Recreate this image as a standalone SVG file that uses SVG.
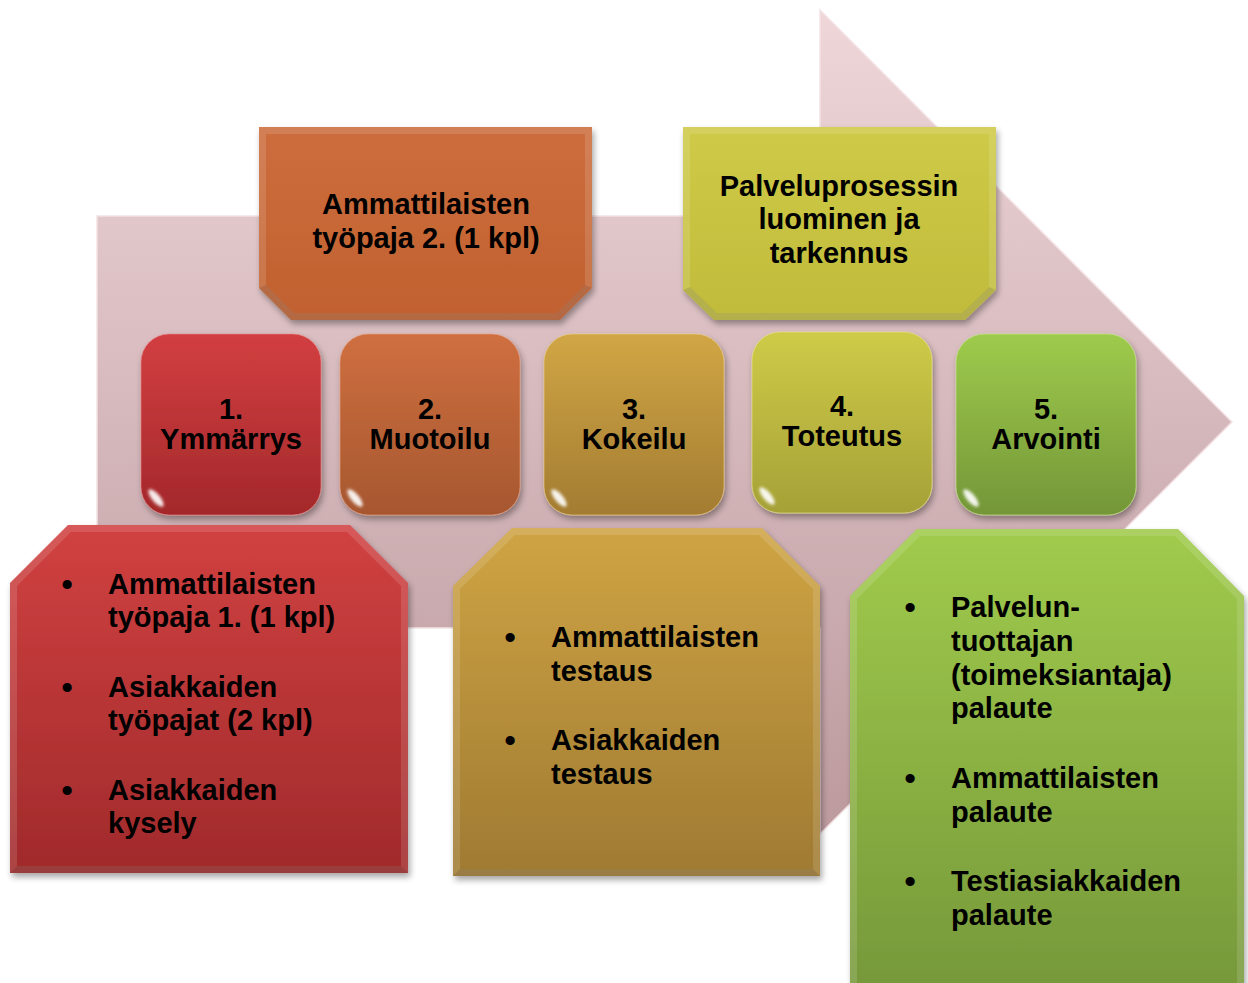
<svg xmlns="http://www.w3.org/2000/svg" xmlns:xlink="http://www.w3.org/1999/xlink" width="1248" height="983" viewBox="0 0 1248 983">
<style>
  text { font-family: "Liberation Sans", Arial, sans-serif; font-weight: bold; font-size: 29px; fill: #000; }
  .c { text-anchor: middle; }
  .b { font-size: 32px; }
  .hl { fill: #ffffff; fill-opacity: 0.13; fill-rule: evenodd; }
  .sh { fill: #000000; fill-opacity: 0.1; }
</style>
<defs>
  <linearGradient id="gArrow" gradientUnits="userSpaceOnUse" x1="0" y1="10" x2="0" y2="834">
    <stop offset="0" stop-color="#eed6d9"/>
    <stop offset="1" stop-color="#bc9a9e"/>
  </linearGradient>
  <linearGradient id="gOrangeTop" x1="0" y1="0" x2="0" y2="1">
    <stop offset="0" stop-color="#cd6d3e"/>
    <stop offset="1" stop-color="#c1612f"/>
  </linearGradient>
  <linearGradient id="gYellowTop" x1="0" y1="0" x2="0" y2="1">
    <stop offset="0" stop-color="#cfca47"/>
    <stop offset="1" stop-color="#c0bb3a"/>
  </linearGradient>
  <linearGradient id="gS1" x1="0" y1="0" x2="0" y2="1">
    <stop offset="0" stop-color="#d23f41"/>
    <stop offset="1" stop-color="#a3282b"/>
  </linearGradient>
  <linearGradient id="gS2" x1="0" y1="0" x2="0" y2="1">
    <stop offset="0" stop-color="#cf6f40"/>
    <stop offset="1" stop-color="#a6572f"/>
  </linearGradient>
  <linearGradient id="gS3" x1="0" y1="0" x2="0" y2="1">
    <stop offset="0" stop-color="#d0a645"/>
    <stop offset="1" stop-color="#a37c32"/>
  </linearGradient>
  <linearGradient id="gS4" x1="0" y1="0" x2="0" y2="1">
    <stop offset="0" stop-color="#cecb48"/>
    <stop offset="1" stop-color="#a6a137"/>
  </linearGradient>
  <linearGradient id="gS5" x1="0" y1="0" x2="0" y2="1">
    <stop offset="0" stop-color="#9ecb4c"/>
    <stop offset="1" stop-color="#749638"/>
  </linearGradient>
  <linearGradient id="gRed" x1="0" y1="0" x2="0" y2="1">
    <stop offset="0" stop-color="#d14141"/>
    <stop offset="1" stop-color="#a02a2b"/>
  </linearGradient>
  <linearGradient id="gGold" x1="0" y1="0" x2="0" y2="1">
    <stop offset="0" stop-color="#cfa444"/>
    <stop offset="1" stop-color="#9f7a32"/>
  </linearGradient>
  <linearGradient id="gGreen" x1="0" y1="0" x2="0" y2="1">
    <stop offset="0" stop-color="#a0cb4c"/>
    <stop offset="1" stop-color="#76983a"/>
  </linearGradient>
  <filter id="shadow" x="-10%" y="-10%" width="125%" height="130%">
    <feDropShadow dx="2" dy="4" stdDeviation="3" flood-color="#000" flood-opacity="0.35"/>
  </filter>
  <filter id="blur" x="-20%" y="-50%" width="140%" height="200%">
    <feGaussianBlur stdDeviation="1.5"/>
  </filter>
  <g id="gloss">
    <path d="M30,6 L150,6" stroke="#ffffff" stroke-opacity="0.55" stroke-width="4" stroke-linecap="round" filter="url(#blur)" fill="none"/>
    <path d="M176,40 L176,150" stroke="#ffffff" stroke-opacity="0.35" stroke-width="3" stroke-linecap="round" filter="url(#blur)" fill="none"/>
    <path d="M4,40 L4,140" stroke="#ffffff" stroke-opacity="0.2" stroke-width="3" stroke-linecap="round" filter="url(#blur)" fill="none"/>
    <ellipse cx="15" cy="164" rx="11" ry="4" transform="rotate(50 15 164)" fill="#ffffff" fill-opacity="0.9" filter="url(#blur)"/>
  </g>
</defs>

<g id="arrow-background">
  <polygon points="97,216 820,216 820,10 1232,422 820,834 820,628 97,628" fill="url(#gArrow)" stroke="#f3e2e4" stroke-width="1.5"/>
</g>

<g id="connectors"></g>

<g id="box-ammattilaisten-tyopaja-2">
  <polygon points="259,127 592,127 592,288 560,320 291,320 259,288" fill="url(#gOrangeTop)" filter="url(#shadow)"/>
  <path class="hl" d="M259,127 L592,127 L592,288 L560,320 L291,320 L259,288 Z M266,134 L585,134 L585,285 L557,313 L294,313 L266,285 Z"/>
  <path class="sh" d="M259,288 L291,320 L560,320 L592,288 L585,285 L557,313 L294,313 L266,285 Z"/>
  <text class="c" x="426" y="214">Ammattilaisten</text>
  <text class="c" x="426" y="248">työpaja 2. (1 kpl)</text>
</g>

<g id="box-palveluprosessin">
  <polygon points="683,127 996,127 996,290 965,320 714,320 683,290" fill="url(#gYellowTop)" filter="url(#shadow)"/>
  <path class="hl" d="M683,127 L996,127 L996,290 L965,320 L714,320 L683,290 Z M690,134 L989,134 L989,287 L962,313 L717,313 L690,287 Z"/>
  <path class="sh" d="M683,290 L714,320 L965,320 L996,290 L989,287 L962,313 L717,313 L690,287 Z"/>
  <text class="c" x="839" y="196">Palveluprosessin</text>
  <text class="c" x="839" y="229">luominen ja</text>
  <text class="c" x="839" y="263">tarkennus</text>
</g>

<g id="step-1">
  <rect x="141" y="334" width="180" height="181" rx="28" fill="url(#gS1)" stroke="#e88a8a" stroke-opacity="0.6" stroke-width="1" filter="url(#shadow)"/>
  <use xlink:href="#gloss" x="141" y="334"/>
  <text class="c" x="231" y="419">1.</text>
  <text class="c" x="231" y="449">Ymmärrys</text>
</g>

<g id="step-2">
  <rect x="340" y="334" width="180" height="181" rx="28" fill="url(#gS2)" stroke="#e8a080" stroke-opacity="0.6" stroke-width="1" filter="url(#shadow)"/>
  <use xlink:href="#gloss" x="340" y="334"/>
  <text class="c" x="430" y="419">2.</text>
  <text class="c" x="430" y="449">Muotoilu</text>
</g>

<g id="step-3">
  <rect x="544" y="334" width="180" height="181" rx="28" fill="url(#gS3)" stroke="#ecd08a" stroke-opacity="0.6" stroke-width="1" filter="url(#shadow)"/>
  <use xlink:href="#gloss" x="544" y="334"/>
  <text class="c" x="634" y="419">3.</text>
  <text class="c" x="634" y="449">Kokeilu</text>
</g>

<g id="step-4">
  <rect x="752" y="332" width="180" height="181" rx="28" fill="url(#gS4)" stroke="#eae68a" stroke-opacity="0.6" stroke-width="1" filter="url(#shadow)"/>
  <use xlink:href="#gloss" x="752" y="332"/>
  <text class="c" x="842" y="416">4.</text>
  <text class="c" x="842" y="446">Toteutus</text>
</g>

<g id="step-5">
  <rect x="956" y="334" width="180" height="181" rx="28" fill="url(#gS5)" stroke="#c8e890" stroke-opacity="0.6" stroke-width="1" filter="url(#shadow)"/>
  <use xlink:href="#gloss" x="956" y="334"/>
  <text class="c" x="1046" y="419">5.</text>
  <text class="c" x="1046" y="449">Arvointi</text>
</g>

<g id="box-red-list">
  <polygon points="10,583 68,525 350,525 408,583 408,873 10,873" fill="url(#gRed)" filter="url(#shadow)"/>
  <path class="hl" d="M10,583 L68,525 L350,525 L408,583 L408,873 L10,873 Z M17,586 L71,532 L347,532 L401,586 L401,866 L17,866 Z"/>
  <path class="sh" d="M10,873 L408,873 L401,866 L17,866 Z"/>
  <text class="c b" x="67" y="595">•</text>
  <text x="108" y="594">Ammattilaisten</text>
  <text x="108" y="627">työpaja 1. (1 kpl)</text>
  <text class="c b" x="67" y="698">•</text>
  <text x="108" y="697">Asiakkaiden</text>
  <text x="108" y="730">työpajat (2 kpl)</text>
  <text class="c b" x="67" y="801">•</text>
  <text x="108" y="800">Asiakkaiden</text>
  <text x="108" y="833">kysely</text>
</g>

<g id="box-gold-list">
  <polygon points="453,586 512,528 762,528 820,586 820,876 453,876" fill="url(#gGold)" filter="url(#shadow)"/>
  <path class="hl" d="M453,586 L512,528 L762,528 L820,586 L820,876 L453,876 Z M460,589 L515,535 L759,535 L813,589 L813,869 L460,869 Z"/>
  <path class="sh" d="M453,876 L820,876 L813,869 L460,869 Z"/>
  <text class="c b" x="510" y="648">•</text>
  <text x="551" y="647">Ammattilaisten</text>
  <text x="551" y="681">testaus</text>
  <text class="c b" x="510" y="751">•</text>
  <text x="551" y="750">Asiakkaiden</text>
  <text x="551" y="784">testaus</text>
</g>

<g id="box-green-list">
  <polygon points="850,596 917,529 1178,529 1244,596 1244,990 850,990" fill="url(#gGreen)" filter="url(#shadow)"/>
  <path class="hl" d="M850,596 L917,529 L1178,529 L1244,596 L1244,990 L850,990 Z M857,599 L920,536 L1175,536 L1237,599 L1237,990 L857,990 Z"/>
  <text class="c b" x="910" y="618">•</text>
  <text x="951" y="617">Palvelun-</text>
  <text x="951" y="651">tuottajan</text>
  <text x="951" y="685">(toimeksiantaja)</text>
  <text x="951" y="718">palaute</text>
  <text class="c b" x="910" y="789">•</text>
  <text x="951" y="788">Ammattilaisten</text>
  <text x="951" y="822">palaute</text>
  <text class="c b" x="910" y="892">•</text>
  <text x="951" y="891">Testiasiakkaiden</text>
  <text x="951" y="925">palaute</text>
</g>
</svg>
